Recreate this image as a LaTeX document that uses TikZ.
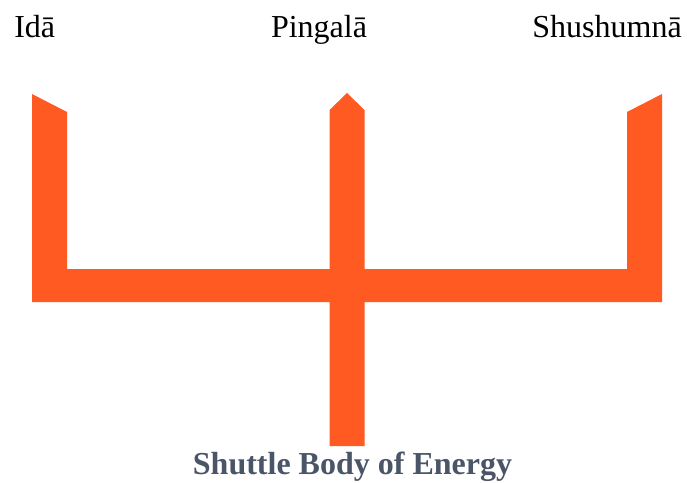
\documentclass[tikz,border=0pt]{standalone}
\usepackage{fontspec}
\setmainfont{Liberation Serif}
\definecolor{shuttle}{HTML}{FF5A22}
\definecolor{slate}{HTML}{4A5568}
\begin{document}
\begin{tikzpicture}[x=0.75pt,y=-0.75pt,
  lbl/.style={font=\fontsize{24}{28}\selectfont, text=black, inner sep=0pt},
  ttl/.style={font=\fontsize{24}{28}\selectfont\bfseries, text=slate, inner sep=0pt}]
\useasboundingbox[fill=white] (0,0) rectangle (687,483);
\fill[shuttle] (32,94) -- (67,112) -- (67,269) -- (329.5,269) -- (329.5,110) -- (347,93)
  -- (364.5,110) -- (364.5,269) -- (627,269) -- (627,112) -- (662,94) -- (662,302)
  -- (364.5,302) -- (364.5,446) -- (329.5,446) -- (329.5,302) -- (32,302) -- cycle;
\node[lbl, anchor=base west] (ida) at (14,37) {Idā};
\node[lbl, anchor=base] (pingala) at (319,37) {Pingalā};
\node[lbl, anchor=base east] (shushumna) at (682,37) {Shushumnā};
\node[ttl, anchor=base] (title) at (352.5,474) {Shuttle Body of Energy};
\end{tikzpicture}
\end{document}
